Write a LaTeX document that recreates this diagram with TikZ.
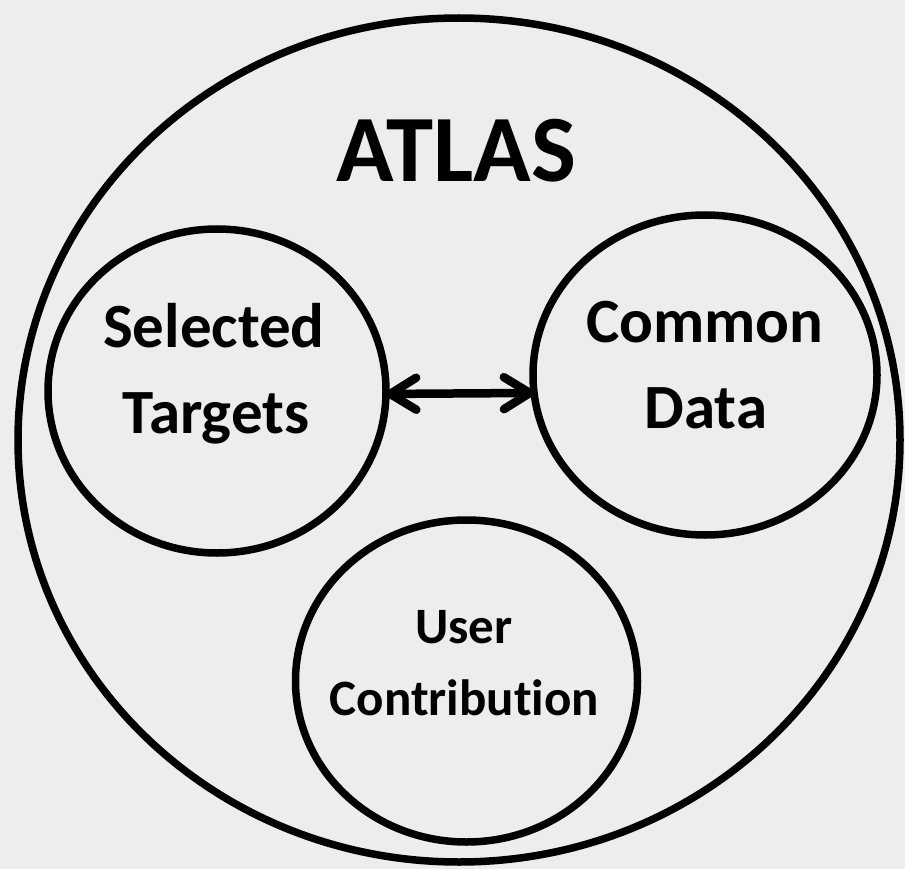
\documentclass[tikz,border=0pt]{standalone}
\usepackage{fontspec}
\setmainfont{Carlito}[Ligatures={NoCommon}]
\usetikzlibrary{shapes.geometric,arrows.meta}
\definecolor{paper}{HTML}{EDEDED}
\tikzset{
  ring/.style={draw=black, line width=7.5pt, ellipse, inner sep=0pt, outer sep=0pt},
  big/.style={font=\bfseries\fontsize{63}{63}\selectfont, anchor=base, inner sep=0pt},
  mid/.style={font=\bfseries\fontsize{51}{51}\selectfont, anchor=base, inner sep=0pt},
  title/.style={font=\bfseries\fontsize{95}{95}\selectfont, anchor=base, inner sep=0pt},
  arr/.style={line width=8.5pt, {Straight Barb[length=26pt,width=32pt,round]}-{Straight Barb[length=26pt,width=32pt,round]}}
}
\begin{document}
\begin{tikzpicture}[x=1pt,y=-1pt]
\fill[paper] (0,0) rectangle (905,869);
\useasboundingbox (0,0) rectangle (905,869);
\node[ring, minimum width=882pt, minimum height=844pt] (atlas) at (459,440) {};
\node[ring, minimum width=338pt, minimum height=324pt] (sel) at (217,391) {};
\node[ring, minimum width=344pt, minimum height=320pt] (com) at (705,375) {};
\node[ring, minimum width=342pt, minimum height=322pt] (usr) at (466.5,681) {};
\node[title] (tA) at (456,182) {ATLAS};
\node[big] (t1) at (214,347) {Selected};
\node[big] (t2) at (216,433) {Targets};
\node[big] (t3) at (705,342) {Common};
\node[big] (t4) at (706,428) {Data};
\node[mid] (t5) at (464,643) {User};
\node[mid] (t6) at (464.5,715) {Contribution};
\draw[arr] (sel.-1.4) -- (com.186.7);
\end{tikzpicture}
\end{document}
